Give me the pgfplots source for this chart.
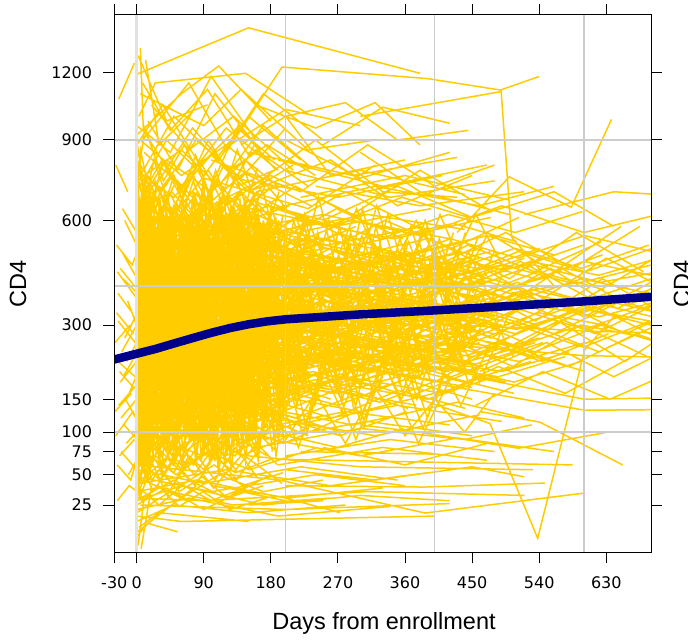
\documentclass[border=0pt]{standalone}
\usepackage{pgfplots}
\pgfplotsset{compat=1.18}
\usepackage{fontspec}
\setmainfont{Liberation Sans}
\newfontfamily\tickfont{DejaVu Sans}
\definecolor{cdyel}{RGB}{255,204,0}
\definecolor{cdnavy}{RGB}{0,0,139}
\definecolor{gridg}{RGB}{204,204,204}
\definecolor{gridz}{RGB}{226,226,226}
\begin{document}
\begin{tikzpicture}
\useasboundingbox (0,0) rectangle (688pt,641pt);
\begin{axis}[
  at={(114.3pt,88.7pt)}, anchor=south west,
  scale only axis, width=536.7pt, height=537.3pt,
  xmin=-30, xmax=690, ymin=3.1, ymax=1487,
  y coord trafo/.code=\pgfmathparse{sqrt(#1)},
  y coord inv trafo/.code=\pgfmathparse{(#1)^2},
  xtick={-30,0,90,180,270,360,450,540,630},
  xticklabels={-30,0,90,180,270,360,450,540,630},
  ytick={25,50,75,100,150,300,600,900,1200},
  yticklabels={25,50,75,100,150,300,600,900,1200},
  minor tick num=0,
  tick align=outside, major tick length=11pt,
  xtick pos=both, ytick pos=both,
  tick style={black, line width=1pt},
  axis line style={black, line width=1pt},
  xticklabel style={font=\tickfont\fontsize{16pt}{19pt}\selectfont, anchor=north, inner sep=0pt, yshift=-13.4pt},
  yticklabel style={font=\tickfont\fontsize{16pt}{19pt}\selectfont, anchor=east, inner sep=0pt, xshift=-11pt},
  axis on top, clip mode=individual,
  empty line=jump, unbounded coords=jump,
]
\addplot[cdyel, line width=1.5pt, mark=none, forget plot] coordinates {
(0,38)(9,62)(31,45)(58,80)(90,55)(126,98)(175,70)

(1,70)(12,48)(36,95)(62,66)(98,120)(140,85)(188,110)

(0,92)(6,140)(28,75)(55,118)(86,96)(120,150)(165,105)

(2,105)(15,170)(40,88)(70,140)(104,112)(138,180)(196,130)

(0,120)(8,210)(30,150)(61,95)(92,175)(130,140)(182,220)

(1,180)(10,120)(34,230)(66,160)(95,250)(133,175)(190,240)

(0,170)(5,290)(26,200)(52,260)(85,180)(118,300)(170,230)

(3,240)(16,160)(44,300)(72,210)(108,330)(146,250)(200,310)

(0,260)(7,380)(33,230)(60,340)(88,270)(124,390)(178,300)

(2,300)(13,200)(38,360)(68,280)(101,400)(142,310)(194,380)

(0,290)(4,450)(29,330)(57,250)(89,410)(122,320)(168,430)

(1,360)(11,250)(35,420)(64,320)(97,460)(136,360)(186,400)

(0,400)(9,520)(32,340)(59,450)(93,380)(128,500)(172,420)

(2,430)(14,310)(41,500)(71,390)(106,540)(144,430)(199,480)

(0,480)(6,620)(27,420)(54,540)(87,450)(119,590)(163,470)

(1,520)(12,380)(37,600)(65,470)(99,640)(139,500)(191,560)

(0,560)(8,720)(30,480)(58,620)(91,520)(125,680)(176,570)

(3,590)(17,450)(43,700)(74,560)(109,740)(148,600)(205,650)

(0,680)(5,860)(26,590)(53,740)(84,620)(117,800)(160,690)

(1,700)(10,560)(36,820)(63,690)(96,900)(135,720)(184,780)

(0,45)(4,30)(25,70)(50,52)(79,105)(112,78)(150,130)(230,95)

(2,55)(14,88)(39,64)(67,130)(100,90)(134,150)(181,115)

(0,85)(7,60)(33,125)(63,100)(94,160)(129,115)(175,190)(260,150)

(1,110)(11,80)(35,150)(69,125)(103,200)(141,150)(197,210)

(0,140)(3,95)(24,190)(49,150)(82,230)(115,170)(158,260)(240,210)

(2,150)(15,230)(42,175)(73,260)(107,190)(147,290)(203,230)

(0,200)(6,140)(31,260)(60,215)(90,300)(127,240)(171,330)(255,280)

(1,230)(12,330)(37,250)(66,350)(99,270)(137,380)(189,300)

(0,240)(8,170)(29,310)(56,250)(87,360)(121,290)(167,400)(248,330)

(3,270)(17,390)(44,300)(76,420)(110,330)(150,450)(207,360)

(0,320)(5,230)(27,380)(55,310)(86,440)(119,350)(162,470)(245,390)

(2,350)(13,470)(40,360)(70,490)(104,380)(143,520)(198,420)

(0,370)(9,280)(32,430)(61,360)(93,500)(131,400)(180,530)(270,440)

(1,410)(16,540)(45,420)(75,560)(108,440)(149,600)(206,480)

(0,450)(4,340)(28,510)(54,430)(85,580)(118,470)(160,620)(252,520)

(2,490)(12,640)(38,500)(67,660)(101,520)(140,700)(192,560)

(0,530)(7,400)(30,600)(59,510)(91,690)(126,560)(173,740)

(1,580)(14,760)(41,590)(72,780)(106,610)(146,820)(201,640)

(0,640)(5,480)(27,710)(53,620)(84,820)(116,660)(158,880)

(2,760)(11,950)(36,740)(64,880)(97,700)(136,960)(187,780)

(0,60)(8,42)(30,55)(57,35)(88,48)(122,30)(170,40)

(1,95)(10,70)(34,85)(62,58)(95,75)(132,52)(180,66)

(0,130)(6,100)(28,120)(55,90)(87,110)(121,80)(168,95)

(2,170)(13,135)(39,160)(69,120)(103,145)(140,105)(193,130)

(0,210)(4,170)(27,200)(52,155)(83,185)(116,140)(160,175)

(1,260)(12,210)(36,245)(65,190)(98,230)(135,180)(185,215)

(0,300)(7,240)(31,290)(58,225)(90,275)(124,215)(172,255)

(3,330)(15,270)(42,320)(72,250)(106,300)(145,240)(199,285)

(0,390)(5,310)(26,370)(53,290)(85,350)(118,280)(163,330)

(2,440)(11,350)(37,420)(66,330)(100,400)(138,310)(190,380)

(0,480)(8,390)(32,460)(61,360)(93,440)(129,340)(177,420)

(1,540)(14,430)(40,510)(70,400)(105,490)(144,380)(197,460)

(0,610)(6,490)(29,580)(56,460)(88,550)(123,430)(169,520)

(2,690)(13,550)(38,650)(68,520)(102,620)(141,490)(194,590)

(0,780)(4,620)(25,740)(51,590)(82,700)(114,560)(157,660)

(1,880)(10,700)(34,820)(63,660)(96,780)(134,620)(183,720)

(0,50)(7,28)(29,40)(57,24)(89,35)(125,22)(174,30)

(2,75)(15,50)(40,68)(71,45)(104,60)(142,40)(196,52)

(0,115)(5,85)(27,105)(54,78)(86,98)(119,70)(165,88)

(1,155)(12,120)(35,145)(64,110)(97,138)(133,100)(182,130)

(0,180)(3,320)(22,150)(48,290)(78,160)(111,300)(152,170)(215,280)

(1,260)(9,130)(31,310)(60,160)(92,330)(127,190)(174,340)

(0,310)(5,520)(27,260)(55,470)(85,280)(119,480)(163,300)(238,450)

(2,220)(14,380)(38,190)(68,360)(101,210)(139,370)(190,230)

(0,420)(6,250)(30,440)(58,270)(90,460)(124,290)(171,470)(250,320)

(1,140)(11,260)(34,120)(63,240)(95,130)(131,250)(179,140)

(0,520)(8,330)(32,560)(61,350)(93,580)(128,370)(176,600)

(3,90)(16,170)(43,80)(74,160)(108,85)(148,165)(204,95)

(0,620)(4,400)(25,640)(51,420)(81,660)(113,440)(155,680)(230,470)

(2,70)(12,140)(37,62)(67,130)(100,68)(137,125)(188,75)

(0,350)(7,200)(29,370)(57,210)(88,390)(122,220)(168,400)

(1,200)(13,360)(39,180)(69,340)(102,195)(141,350)(193,210)

(0,440)(5,640)(26,410)(53,620)(84,430)(117,640)(159,450)

(2,120)(10,220)(35,105)(64,200)(97,115)(135,210)(185,125)

(0,720)(8,460)(31,700)(60,480)(92,720)(127,500)(174,730)

(1,35)(14,75)(41,32)(70,70)(103,38)(142,72)(195,42)

(0,280)(6,460)(28,260)(56,440)(87,270)(121,450)(166,290)

(3,380)(15,230)(40,400)(71,240)(105,410)(144,250)(199,420)

(0,160)(4,300)(24,150)(50,280)(80,160)(112,290)(154,170)

(2,560)(11,350)(36,580)(65,360)(98,600)(136,380)(187,610)

(0,230)(21,300)(63,260)(118,350)(196,310)(283,380)

(1,180)(25,140)(70,210)(126,170)(205,240)(292,200)

(0,330)(19,420)(58,360)(112,450)(188,400)(276,470)

(2,90)(27,130)(74,100)(131,150)(212,120)(300,160)

(0,400)(23,330)(66,440)(121,370)(199,460)(287,400)

(1,270)(18,360)(56,300)(108,390)(183,330)(270,420)

(0,130)(24,190)(69,150)(124,210)(203,170)(290,230)

(3,480)(28,580)(77,500)(134,600)(216,530)(305,620)

(0,210)(20,160)(61,240)(115,190)(193,260)(280,210)

(1,360)(26,290)(72,380)(128,310)(208,400)(296,330)

(0,60)(22,100)(65,75)(119,115)(197,85)(285,125)

(2,580)(29,470)(79,600)(137,490)(219,620)(309,510)

(0,300)(17,240)(54,320)(106,260)(180,340)(266,280)

(1,160)(21,230)(62,180)(117,250)(195,200)(282,270)

(0,450)(25,540)(71,470)(127,560)(207,490)(294,580)

(2,110)(19,80)(57,120)(110,90)(186,130)(273,100)

(0,250)(23,320)(68,270)(123,340)(201,290)(288,360)

(1,680)(27,560)(75,700)(132,580)(213,720)(301,600)

(0,190)(18,260)(55,210)(107,280)(182,230)(268,300)

(3,380)(24,300)(70,400)(125,320)(204,420)(291,340)

(0,250)(30,310)(88,270)(175,340)(265,300)(352,370)(440,330)(530,390)(618,350)

(1,180)(33,240)(92,200)(182,260)(270,220)(360,280)(450,240)(540,300)

(0,320)(28,400)(86,350)(171,420)(262,380)(348,450)(437,400)(528,470)(620,430)(700,480)

(2,140)(35,190)(95,160)(186,210)(276,180)(366,230)(455,200)

(0,410)(31,350)(90,430)(178,380)(268,450)(357,400)(446,470)(536,420)(625,490)

(1,90)(29,130)(87,105)(173,150)(263,120)(351,165)(441,135)

(0,280)(34,220)(94,300)(184,250)(273,320)(363,270)(452,340)(542,290)(631,360)(700,330)

(3,520)(30,620)(89,560)(177,650)(267,590)(356,680)(445,610)

(0,200)(32,270)(91,230)(180,290)(271,250)(361,310)(449,270)(539,330)(628,300)

(1,350)(27,290)(85,370)(170,310)(260,390)(346,330)(435,410)(525,350)

(0,160)(36,120)(96,175)(187,140)(277,190)(367,155)(457,205)

(2,460)(30,380)(88,480)(176,400)(266,500)(355,420)(444,520)(534,440)(623,530)

(0,230)(29,290)(87,250)(174,310)(264,270)(353,330)(442,290)(532,350)(620,320)(700,360)

(1,60)(31,90)(89,70)(179,100)(269,80)(358,105)

(0,380)(33,460)(93,400)(183,480)(272,420)(362,500)(451,440)(541,510)

(2,120)(28,170)(86,140)(172,190)(261,160)(350,210)(439,180)(529,220)

(0,290)(32,240)(92,310)(181,260)(270,330)(359,280)(448,350)(538,300)(627,370)

(1,600)(30,500)(88,620)(178,520)(268,640)(357,540)

(0,210)(35,160)(95,230)(185,180)(275,250)(365,200)(454,270)(544,220)(633,280)

(3,330)(29,410)(87,350)(175,430)(264,370)(354,450)(443,390)(533,460)(622,410)(700,440)

(0,100)(31,150)(90,120)(180,170)(270,140)(360,185)(450,150)

(1,440)(34,360)(94,460)(184,380)(274,480)(364,400)(453,490)

(0,260)(27,330)(85,290)(171,350)(261,310)(349,370)(438,320)(527,380)(616,340)

(2,170)(30,220)(88,190)(177,240)(267,210)(356,250)(445,220)(535,260)

(0,520)(32,440)(91,540)(181,460)(271,560)(361,480)

(1,240)(29,180)(87,260)(176,200)(266,280)(355,220)(444,290)(534,240)(623,300)(700,260)

(0,75)(33,110)(93,85)(183,125)(273,95)(362,130)

(2,370)(28,300)(86,390)(173,320)(262,410)(352,340)(441,420)(531,360)

(0,300)(31,380)(90,330)(179,400)(269,350)(359,420)(448,370)(538,440)(627,390)

(1,150)(35,110)(95,160)(185,125)(275,170)(364,135)

(0,330)(60,390)(150,350)(240,420)(330,380)(420,450)(510,400)(600,470)(690,430)

(2,210)(58,270)(148,240)(238,300)(328,260)(418,320)(508,280)(598,340)(688,310)

(0,450)(62,380)(152,470)(242,400)(332,490)(422,420)(512,500)(602,440)(692,510)

(1,180)(57,240)(147,200)(237,260)(327,230)(417,280)(507,250)(597,300)(687,270)

(0,280)(61,230)(151,300)(241,250)(331,320)(421,270)(511,340)(601,290)(691,350)

(3,390)(59,470)(149,410)(239,490)(329,430)(419,510)(509,450)(599,520)

(0,240)(63,300)(153,260)(243,320)(333,280)(423,340)(513,300)(603,360)(693,320)

(1,130)(56,180)(146,150)(236,200)(326,170)(416,210)(506,180)(596,220)

(0,360)(60,300)(150,380)(240,320)(330,400)(420,340)(510,410)(600,360)(690,420)

(2,500)(58,580)(148,520)(238,600)(328,540)(418,620)(508,560)(598,630)

(0,190)(62,150)(152,210)(242,170)(332,230)(422,190)(512,240)(602,200)

(1,310)(57,370)(147,330)(237,390)(327,350)(417,410)(507,360)(597,420)(687,380)

(0,420)(61,500)(151,440)(241,520)(331,460)(421,540)(511,480)(601,550)(691,500)

(3,260)(59,210)(149,280)(239,230)(329,290)(419,240)(509,300)(599,250)(689,310)

(0,560)(63,470)(153,580)(243,490)(333,600)(423,510)(513,610)

(1,110)(56,160)(146,130)(236,175)(326,145)(416,190)(506,160)

(0,230)(60,280)(150,250)(240,300)(330,270)(420,320)(510,290)(600,340)(690,300)

(2,340)(58,280)(148,360)(238,300)(328,370)(418,310)(508,380)(598,330)(688,390)

(0,160)(62,210)(152,180)(242,230)(332,200)(422,250)(512,220)(602,260)

(1,470)(57,400)(147,490)(237,420)(327,500)(417,440)(507,510)(597,450)(687,520)

(0,250)(2,150)(20,290)(48,200)(76,330)(104,230)(132,310)(160,210)(188,290)

(0,90)(3,200)(21,120)(49,180)(77,110)(105,190)(133,130)(161,200)

(1,420)(2,280)(22,450)(50,320)(78,470)(106,350)(134,480)(162,380)(190,460)

(0,170)(2,330)(19,190)(47,310)(75,200)(103,300)(131,220)(159,320)

(0,560)(3,360)(23,590)(51,400)(79,610)(107,420)(135,620)(163,450)(191,600)

(1,55)(2,110)(20,65)(48,100)(76,60)(104,95)(132,70)(160,105)

(0,330)(2,520)(21,350)(49,500)(77,370)(105,510)(133,380)(161,530)(189,400)

(0,130)(3,70)(22,150)(50,90)(78,160)(106,100)(134,170)(162,110)

(1,700)(2,480)(20,720)(48,520)(76,740)(104,540)(132,760)(160,560)

(0,210)(2,380)(19,230)(47,360)(75,240)(103,370)(131,250)(159,380)(187,270)

(0,470)(3,300)(21,490)(49,330)(77,510)(105,350)(133,520)(161,370)

(1,30)(2,70)(22,35)(50,65)(78,40)(106,72)(134,45)(162,75)

(0,290)(2,180)(20,310)(48,200)(76,330)(104,220)(132,340)(160,230)(188,350)

(0,380)(3,600)(19,400)(47,580)(75,410)(103,590)(131,420)(159,600)

(1,110)(2,230)(21,120)(49,210)(77,125)(105,215)(133,130)(161,220)

(0,640)(2,420)(23,660)(51,450)(79,680)(107,470)(135,690)(163,490)(191,700)

(0,190)(3,110)(20,210)(48,125)(76,220)(104,140)(132,230)(160,150)

(1,510)(2,800)(22,530)(50,760)(78,540)(106,780)(134,560)(162,790)

(0,75)(2,150)(19,85)(47,140)(75,90)(103,145)(131,95)(159,150)(187,100)

(0,270)(3,450)(21,290)(49,430)(77,300)(105,440)(133,310)(161,450)

(1,360)(2,220)(20,380)(48,240)(76,390)(104,250)(132,400)(160,260)(188,410)

(0,150)(2,260)(22,160)(50,250)(78,165)(106,255)(134,170)(162,260)

(0,430)(3,680)(23,450)(51,650)(79,460)(107,660)(135,470)(163,670)

(1,40)(2,85)(21,45)(49,80)(77,50)(105,82)(133,55)(161,85)(189,60)

(0,600)(2,380)(19,620)(47,400)(75,630)(103,410)(131,640)(159,420)

(0,230)(3,140)(20,250)(48,150)(76,260)(104,160)(132,270)(160,170)(188,280)

(1,310)(2,500)(22,330)(50,480)(78,340)(106,490)(134,350)(162,500)

(0,100)(2,55)(21,110)(49,60)(77,115)(105,65)(133,120)(161,70)

(0,800)(3,560)(23,820)(51,600)(79,840)(107,620)(135,860)(163,640)

(1,180)(2,300)(20,195)(48,290)(76,200)(104,295)(132,210)(160,300)(188,220)

(0,260)(2,410)(19,270)(47,400)(75,280)(103,410)(131,290)(159,420)

(0,65)(3,35)(21,70)(49,40)(77,75)(105,45)(133,80)(161,48)

(1,490)(2,320)(22,510)(50,340)(78,520)(106,350)(134,530)(162,360)(190,540)

(0,140)(2,240)(20,150)(48,230)(76,155)(104,235)(132,160)(160,240)

(0,350)(3,560)(23,370)(51,540)(79,380)(107,550)(135,390)(163,560)

(1,120)(2,60)(19,130)(47,70)(75,135)(103,75)(131,140)(159,80)(187,145)

(0,540)(2,340)(21,560)(49,360)(77,570)(105,370)(133,580)(161,380)

(0,220)(3,360)(22,235)(50,350)(78,240)(106,355)(134,250)(162,360)

(1,400)(2,250)(20,420)(48,265)(76,430)(104,270)(132,440)(160,280)(188,450)

(0,85)(2,165)(21,95)(49,155)(77,100)(105,160)(133,105)(161,165)

(0,320)(10,270)(45,380)(80,300)(140,360)(230,330)

(2,150)(18,210)(52,170)(95,230)(150,190)(240,250)

(0,480)(14,410)(47,520)(88,440)(143,540)(226,470)

(1,95)(16,140)(50,110)(92,150)(147,120)(235,160)

(0,270)(12,340)(43,280)(83,360)(138,300)(222,370)

(3,620)(19,530)(55,650)(97,560)(152,670)(245,590)

(0,200)(11,160)(44,220)(85,170)(141,230)(228,190)

(1,390)(17,460)(51,400)(93,480)(148,420)(238,490)

(0,130)(13,180)(46,140)(86,190)(142,150)(231,200)

(2,560)(15,470)(49,580)(90,490)(145,600)(233,510)

(0,240)(10,300)(42,250)(81,310)(137,260)(220,320)

(1,45)(18,70)(53,50)(96,75)(151,55)(243,80)

(0,340)(12,280)(45,360)(84,290)(140,370)(227,300)

(3,170)(16,230)(50,180)(91,240)(146,190)(236,250)

(0,430)(14,510)(47,440)(87,520)(144,450)(229,530)

(1,70)(11,110)(44,80)(86,115)(141,85)(232,120)

(0,290)(19,230)(54,300)(98,240)(153,310)(247,250)

(2,750)(13,620)(48,760)(89,640)(144,770)(234,650)

(0,185)(15,250)(48,195)(90,260)(146,200)(237,270)

(1,520)(17,430)(52,540)(94,450)(149,550)(240,460)

(0,110)(12,160)(45,120)(85,170)(140,125)(225,175)

(2,370)(18,300)(53,390)(95,310)(150,400)(242,320)

(0,225)(10,290)(43,235)(82,300)(138,240)(223,310)

(1,680)(14,560)(47,700)(88,580)(143,710)(230,600)

(0,260)(16,200)(50,270)(92,210)(147,280)(238,220)

(3,140)(11,95)(44,150)(84,100)(139,155)(226,105)

(0,410)(13,340)(46,430)(87,350)(142,440)(229,360)

(1,300)(19,370)(54,310)(97,380)(152,320)(246,390)

(0,60)(12,95)(45,65)(86,100)(141,70)(228,105)

(2,460)(15,380)(49,480)(90,390)(145,490)(235,400)

(0,80)(14,520)(33,95)(55,610)(78,120)(101,480)(126,70)(152,560)(183,110)(210,450)

(1,600)(10,75)(30,540)(51,90)(74,650)(97,105)(121,500)(147,85)(176,580)(205,140)

(0,150)(18,680)(40,130)(63,560)(87,65)(112,620)(138,140)(165,520)(196,95)

(2,450)(16,60)(37,700)(59,110)(83,540)(107,75)(133,590)(160,125)(190,520)

(0,55)(12,430)(35,80)(58,520)(80,60)(104,600)(129,90)(157,470)(187,70)(220,400)

(1,720)(20,140)(42,600)(66,95)(90,680)(115,150)(141,560)(170,100)(201,600)

(0,100)(8,640)(28,115)(48,500)(71,85)(95,570)(118,130)(144,610)(172,90)

(3,520)(22,70)(45,590)(69,100)(93,520)(118,60)(143,640)(168,120)(199,500)(230,160)

(0,200)(11,760)(32,160)(54,660)(77,130)(100,720)(124,180)(150,600)(179,150)

(1,380)(15,45)(36,420)(61,55)(85,470)(110,50)(136,390)(163,65)(193,420)

(0,70)(17,580)(39,90)(62,690)(86,115)(109,540)(135,80)(161,620)(189,100)(215,500)

(2,650)(9,110)(29,600)(52,140)(76,700)(99,95)(123,560)(149,130)(177,620)

(0,120)(19,470)(41,75)(64,540)(88,105)(113,500)(139,70)(166,560)(197,120)

(1,560)(13,90)(34,650)(57,120)(81,580)(105,85)(130,660)(156,110)(185,540)(218,180)

(0,90)(21,700)(43,140)(67,620)(91,100)(116,720)(142,150)(169,580)(200,130)

(3,480)(10,55)(31,520)(53,70)(75,600)(98,60)(122,500)(148,90)(175,560)

(0,170)(16,620)(38,110)(60,580)(84,160)(108,650)(132,120)(158,600)(188,170)(225,520)

(1,700)(23,160)(46,640)(70,130)(94,600)(119,170)(145,680)(171,140)(202,560)

(0,60)(14,380)(33,50)(56,450)(79,65)(103,400)(127,55)(154,470)(182,75)

(2,400)(12,100)(32,470)(55,85)(78,520)(102,110)(128,450)(153,95)(181,500)(212,150)

(0,130)(19,560)(40,100)(62,600)(85,140)(109,530)(134,90)(160,590)(191,130)

(1,620)(11,120)(31,680)(53,150)(76,560)(100,120)(125,640)(151,160)(180,600)

(0,85)(15,660)(36,105)(59,560)(82,80)(106,640)(131,110)(157,540)(186,90)(216,460)

(3,540)(18,90)(41,620)(65,115)(89,560)(114,100)(140,600)(167,130)(198,520)

(0,240)(9,720)(27,190)(49,640)(72,220)(96,700)(120,180)(146,650)(174,230)

(1,350)(17,65)(39,400)(63,70)(87,420)(111,60)(137,380)(164,80)(195,440)

(0,110)(22,600)(44,90)(68,540)(92,120)(117,620)(143,100)(170,560)(199,140)

(2,580)(13,130)(35,560)(58,100)(82,640)(106,140)(131,580)(158,110)(187,600)(222,200)

(0,75)(10,520)(30,60)(52,580)(74,90)(97,490)(121,70)(147,540)(176,100)

(1,760)(20,200)(42,700)(65,170)(89,740)(113,210)(139,660)(166,190)(196,620)

(0,160)(16,540)(37,130)(60,600)(83,150)(107,520)(133,120)(159,580)(190,150)(228,480)

(3,460)(12,80)(33,500)(56,95)(79,450)(103,70)(127,530)(154,100)(183,470)

(0,95)(18,640)(39,120)(61,580)(85,95)(110,660)(136,130)(162,600)(192,110)

(1,520)(14,140)(34,600)(57,160)(80,540)(104,130)(129,620)(155,170)(184,560)(214,220)

(0,65)(21,470)(43,85)(66,520)(90,70)(115,440)(140,95)(167,500)(198,85)

(2,680)(11,160)(31,620)(54,180)(77,700)(101,150)(126,640)(152,190)(181,660)

(0,140)(17,720)(38,170)(62,600)(86,130)(111,680)(137,160)(163,620)(194,150)(226,540)

(1,430)(9,70)(29,480)(51,60)(73,520)(96,80)(120,460)(146,65)(175,500)

(0,180)(20,620)(42,150)(64,560)(88,190)(112,640)(138,160)(165,590)(195,170)

(3,600)(15,110)(36,560)(59,130)(83,620)(108,100)(134,580)(161,140)(191,540)(224,190)

(150,200)(185,520)(222,170)(260,480)(300,200)(340,500)(385,210)(430,460)

(160,480)(196,150)(233,500)(271,160)(311,470)(352,180)(396,490)(442,200)

(140,120)(178,420)(215,140)(253,450)(292,130)(332,400)(376,150)(420,380)

(170,600)(205,230)(243,560)(281,210)(321,580)(362,240)(406,540)(451,260)

(145,300)(182,640)(220,280)(258,600)(297,300)(337,620)(381,290)(425,560)

(155,90)(192,330)(229,100)(267,360)(306,110)(346,320)(390,120)(436,300)

(165,400)(200,130)(238,420)(276,150)(316,440)(357,160)(401,420)(447,170)

(150,650)(188,280)(225,620)(263,260)(303,640)(343,300)(387,600)(432,320)

(175,160)(210,500)(248,180)(286,520)(326,170)(367,490)(411,190)(456,470)

(140,520)(180,200)(218,540)(256,190)(295,510)(335,220)(379,530)(423,230)

(160,260)(197,560)(234,240)(272,580)(312,250)(353,540)(397,270)(441,560)

(150,110)(186,280)(223,95)(261,300)(300,115)(340,270)(384,105)(429,260)

(170,700)(206,350)(244,680)(282,330)(322,650)(363,360)(407,620)(452,380)

(145,220)(183,460)(221,200)(259,440)(298,230)(338,470)(382,220)(426,430)

(155,380)(191,180)(228,400)(266,170)(305,390)(345,190)(389,410)(435,200)

(165,150)(202,380)(239,140)(277,400)(317,160)(358,370)(402,150)(448,390)

(150,560)(187,300)(224,590)(262,280)(302,550)(342,310)(386,570)(431,290)

(175,280)(211,600)(249,260)(287,560)(327,290)(368,580)(412,270)(457,540)

(140,75)(179,200)(217,80)(255,220)(294,90)(334,210)(378,85)(422,190)

(160,440)(198,220)(235,460)(273,230)(313,450)(354,240)(398,470)(443,250)

(200,330)(240,500)(280,300)(320,520)(360,310)(400,480)(440,320)(480,500)

(210,250)(250,420)(290,230)(330,440)(370,240)(410,410)(450,250)(490,430)

(190,420)(230,600)(270,380)(310,560)(350,400)(390,580)(430,390)(470,550)

(220,180)(260,330)(300,170)(340,340)(380,190)(420,320)(460,180)(500,330)

(205,500)(245,280)(285,520)(325,300)(365,530)(405,310)(445,500)(485,320)

(195,140)(235,260)(275,130)(315,270)(355,150)(395,250)(435,140)(475,260)

(215,600)(255,400)(295,640)(335,420)(375,600)(415,430)(455,620)(495,440)

(185,230)(225,380)(265,210)(305,400)(345,220)(385,370)(425,230)(465,390)

(225,360)(265,200)(305,380)(345,210)(385,390)(425,220)(465,370)(505,230)

(200,90)(240,160)(280,85)(320,170)(360,95)(400,150)(440,100)(480,160)

(120,300)(250,360)(380,320)(470,380)

(140,220)(270,260)(400,240)

(100,420)(230,380)(360,450)(450,400)

(160,180)(290,230)(420,200)

(130,520)(260,470)(390,540)

(110,260)(240,210)(370,280)(480,250)

(170,350)(300,420)(430,370)

(150,150)(280,190)(410,160)(500,210)

(125,600)(255,520)(385,580)

(145,280)(275,330)(405,290)

(105,200)(235,250)(365,210)(460,260)

(165,460)(295,400)(425,470)

(135,320)(265,270)(395,340)(490,300)

(115,130)(245,170)(375,140)

(155,390)(285,450)(415,400)(505,460)

(175,240)(305,200)(435,250)

(120,560)(250,620)(380,550)

(140,190)(270,160)(400,210)(495,180)

(100,340)(230,400)(360,350)

(160,430)(290,370)(420,440)(510,390)

(130,270)(260,310)(390,260)

(110,480)(240,540)(370,490)(470,550)

(170,160)(300,130)(430,170)

(150,370)(280,320)(410,390)(500,340)

(125,230)(255,280)(385,240)

(145,500)(275,440)(405,510)

(105,310)(235,260)(365,330)(455,290)

(165,210)(295,250)(425,220)

(135,650)(265,580)(395,640)

(115,360)(245,410)(375,370)(485,420)

(155,250)(285,210)(415,260)

(175,410)(305,470)(435,420)(520,480)

(120,180)(250,220)(380,190)

(140,440)(270,380)(400,450)

(100,290)(230,330)(360,300)(445,350)

(160,530)(290,600)(420,540)

(130,140)(260,180)(390,150)(480,190)

(110,380)(240,330)(370,400)

(170,300)(300,350)(430,310)(515,360)

(150,200)(280,240)(410,205)

(125,460)(255,510)(385,450)(475,500)

(145,330)(275,290)(405,350)

(105,240)(235,290)(365,250)

(165,580)(295,520)(425,590)(510,530)

(135,210)(265,170)(395,220)

(115,410)(245,460)(375,400)(465,450)

(155,170)(285,210)(415,180)

(175,490)(305,430)(435,500)

(120,350)(250,300)(380,360)(490,320)

(140,260)(270,300)(400,270)

(200,300)(330,250)(460,310)

(210,420)(340,480)(470,430)

(190,220)(320,260)(450,230)(540,270)

(220,360)(350,310)(480,370)

(180,520)(310,460)(440,530)

(230,190)(360,230)(490,200)(580,240)

(195,440)(325,500)(455,450)

(205,280)(335,240)(465,290)

(215,600)(345,540)(475,610)

(185,330)(315,380)(445,340)(535,390)

(225,240)(355,200)(485,250)

(200,470)(330,410)(460,480)

(190,160)(320,200)(450,170)

(210,390)(340,440)(470,380)(560,430)

(220,270)(350,320)(480,280)

(180,560)(310,620)(440,570)

(230,340)(360,290)(490,350)

(195,210)(325,250)(455,215)(545,260)

(205,500)(335,450)(465,510)

(215,300)(345,350)(475,310)

(185,430)(315,370)(445,440)

(225,180)(355,220)(485,190)(575,230)

(200,380)(330,420)(460,370)

(190,260)(320,220)(450,270)

(210,540)(340,480)(470,550)(560,490)

(220,310)(350,360)(480,320)

(180,230)(310,270)(440,240)

(230,450)(360,400)(490,460)(580,410)

(195,350)(325,300)(455,360)

(205,200)(335,240)(465,210)

(140,100)(280,130)(420,110)

(160,80)(300,105)(440,90)(530,110)

(180,120)(320,95)(460,125)

(200,70)(340,90)(480,75)

(150,140)(290,110)(430,145)(520,120)

(170,90)(310,115)(450,95)

(190,60)(330,80)(470,65)

(210,110)(350,140)(490,115)

(130,750)(270,680)(410,760)

(160,700)(300,780)(440,690)

(190,820)(330,720)(470,800)

(220,680)(360,760)(500,670)

(150,850)(290,760)(430,830)

(180,640)(320,720)(460,650)(560,720)

(200,780)(340,680)(480,740)

(240,720)(380,650)(520,700)

(0,700)(40,900)(90,760)(150,1000)(220,820)

(10,850)(60,720)(120,950)(190,780)

(5,760)(50,1000)(110,820)(170,1100)(250,900)

(20,1050)(70,860)(130,1000)(210,780)

(0,820)(30,700)(80,900)(140,750)(200,950)

(15,980)(55,780)(105,1100)(165,860)

(0,880)(35,1050)(85,800)(135,950)(185,820)

(25,720)(75,950)(125,780)(175,880)(240,760)

(8,1150)(45,940)(95,1120)(150,840)

(0,740)(60,860)(110,720)(170,960)(230,800)

(0,650)(40,820)(100,700)(160,860)(230,720)

(5,900)(60,760)(120,880)(190,720)

(0,780)(50,680)(100,840)(150,700)(210,800)

(0,40)(30,25)(70,45)(120,30)(180,50)

(5,30)(50,45)(100,28)(160,42)

(0,25)(40,38)(90,22)(140,35)(200,28)

(10,45)(60,30)(110,50)(170,35)(250,45)

(0,35)(80,45)(200,30)(330,38)

(2,48)(100,35)(240,50)(360,40)

(0,28)(60,40)(170,25)(300,32)(420,28)

(1,55)(90,42)(220,58)(350,45)

(0,15)(50,25)(150,20)(280,25)

(3,42)(120,55)(260,40)(390,52)

(0,22)(70,30)(190,18)(340,24)

(200,55)(320,45)(450,58)(520,48)

(250,80)(360,60)(470,85)

(180,90)(300,70)(430,92)(560,75)

(380,250)(470,330)(560,280)(650,360)(720,320)

(390,420)(480,330)(570,450)(660,350)(720,400)

(400,180)(490,260)(580,210)(670,280)(720,250)

(410,520)(500,420)(590,560)(680,440)

(420,300)(510,400)(600,320)(690,410)

(385,340)(475,270)(565,360)(655,280)(720,330)

(395,150)(485,210)(575,160)(665,230)

(405,460)(495,560)(585,450)(675,580)

(415,270)(505,210)(595,300)(685,230)

(425,380)(515,470)(605,370)(695,480)

(440,220)(530,300)(620,240)(710,310)

(450,470)(540,360)(630,480)(720,380)

(430,330)(520,260)(610,350)(700,270)

(460,200)(550,260)(640,190)(720,250)

(470,560)(560,440)(650,580)

(435,260)(525,350)(615,280)(705,360)

(445,400)(535,310)(625,420)(715,320)

(455,140)(545,200)(635,150)(720,200)

(465,350)(555,450)(645,340)(720,430)

(475,230)(565,310)(655,220)(720,290)

(-25,310)(-2,260)(8,340)

(-22,180)(0,220)

(-28,95)(-5,130)(3,110)

(-18,420)(1,380)

(-24,1076)(-3,1244)

(-26,60)(-8,45)(2,70)

(-20,240)(0,300)

(-15,150)(-1,120)

(-27,520)(-6,460)(1,500)

(-21,75)(0,55)

(-12,360)(2,290)

(-23,200)(-4,170)

(-19,640)(0,560)

(-26,28)(-10,40)(1,35)

(-16,270)(1,330)

(-29,130)(-7,160)

(-14,85)(0,100)

(-22,450)(-3,400)

(-25,220)(-2,190)

(-17,110)(1,90)

(-28,800)(-12,700)

(-11,50)(0,65)

(-27,330)(-4,280)

(-24,140)(0,175)

(-20,500)(-2,430)

(-18,190)(1,240)

(-29,260)(-9,300)

(-13,220)(0,260)

(-25,380)(-6,330)

(-21,120)(0,150)

(-16,600)(0,520)

(-23,70)(-3,90)

(-26,440)(-1,370)

(-10,160)(2,200)

(0,1190)(150,1420)(380,1195)

(5,1318)(9,941)(60,700)

(120,850)(195,1225)(390,1170)(488,1117)(540,1180)

(300,1000)(489,1110)(503,545)(560,400)

(3,1000)(25,1150)(146,1195)(230,1010)

(0,920)(60,1100)(110,1230)(180,980)

(2,1280)(40,980)(95,1050)

(8,900)(70,1150)(120,870)(200,1030)(300,960)

(0,960)(45,850)(100,1180)(160,900)

(12,1260)(30,880)(75,1020)

(200,1000)(280,1060)(350,900)(445,940)

(250,880)(330,1040)(420,970)

(5,1100)(90,960)(140,1120)(230,860)(320,900)

(380,150)(474,112)(538,7.4)(601,244)(640,320)

(0,60)(192,45)(387,19.8)(601,33.9)

(200,40)(386,38.8)(548,42.3)

(410,175)(601,132)(700,133)

(450,190)(600,150)(700,152)

(380,260)(600,232)(700,229)

(430,300)(620,285)(700,282)

(0,18)(60,15)(400,18)

(5,25)(200,22)(420,26)

(3,12)(30,20)(150,15)

(0,8)(15,14)(55,10)

(2,5)(10,30)

(0,30)(90,28)(310,35)(520,32)

(0,20)(45,35)(130,25)(260,30)

(6,4)(20,40)

(1,10)(80,40)

(100,40)(193,31)(273,20)

(150,25)(250,28)

(150,70)(300,58)(532,55)

(200,66)(585,60)

(220,75)(400,72)

(300,110)(384,99)(512,79)(628,99)

(460,130)(541,114)(652,60)

(500,380)(601,412)(700,465)

(430,560)(500,755)(583,645)(637,987)

(520,620)(640,700)(700,690)

(150,700)(260,820)(350,650)(450,760)

(100,820)(220,700)(310,880)(400,720)(480,800)

(60,600)(180,760)(290,620)(380,780)(470,640)

(200,900)(300,750)(420,850)

(120,650)(240,900)(330,700)(430,680)

(250,600)(350,720)(450,610)(560,700)(640,580)

(180,560)(280,700)(390,560)(490,650)(600,560)(700,620)

(90,750)(230,640)(320,800)

(300,850)(380,700)(500,620)

(140,880)(200,1000)(260,760)(360,820)

(160,1050)(240,950)(320,1060)(380,880)
};
\addplot[gridz, line width=2.4pt, forget plot] coordinates {(0,1)(0,2000)};
\addplot[gridg, line width=1.2pt, forget plot] coordinates {(200,1)(200,2000)};
\addplot[gridg, line width=1.2pt, forget plot] coordinates {(400,1)(400,2000)};
\addplot[gridg, line width=1.2pt, forget plot] coordinates {(600,1)(600,2000)};
\addplot[gridg, line width=1.2pt, forget plot] coordinates {(-40,100)(720,100)};
\addplot[gridg, line width=1.2pt, forget plot] coordinates {(-40,400)(720,400)};
\addplot[gridg, line width=1.2pt, forget plot] coordinates {(-40,900)(720,900)};
\addplot[cdnavy, line width=8.5pt, forget plot] coordinates {
(-30,224)(0,236)(25,246)(50,258)(75,270)(100,282)(125,293)(150,302)(175,309)(200,314)(250,320)(300,326)(400,336)(500,347)(600,359)(690,371)
};
\node[rotate=90, anchor=base, font=\fontsize{23.5pt}{28pt}\selectfont] at (axis description cs:-0.1645,0.5) {CD4};
\node[rotate=90, anchor=base, font=\fontsize{23.5pt}{28pt}\selectfont] at (axis description cs:1.0727,0.5) {CD4};
\node[anchor=base, font=\fontsize{23.5pt}{28pt}\selectfont] at (axis description cs:0.5025,-0.1428) {Days from enrollment};
\end{axis}
\end{tikzpicture}
\end{document}
